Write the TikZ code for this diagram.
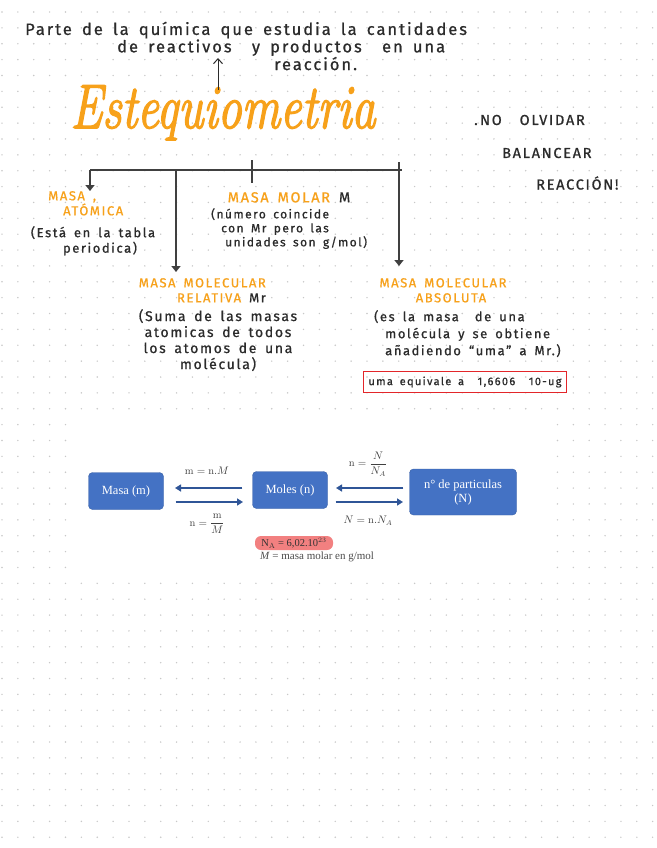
\documentclass[tikz,border=0pt]{standalone}
\usepackage{amsmath}
\usepackage{fontspec}
\usetikzlibrary{positioning, arrows.meta, calc}
\newfontfamily\handfont[LetterSpace=12, WordSpace=1.6, FakeBold=0.8]{Fira Sans}
\newfontfamily\titlefont[FakeBold=2.5]{Latin Modern Roman}
\newfontfamily\slidefont{Liberation Serif}
\definecolor{inkgray}{HTML}{2B2B2B}
\definecolor{stoorange}{HTML}{F7A11A}
\definecolor{dotgray}{HTML}{C8C8C8}
\definecolor{slideblue}{HTML}{4472C4}
\definecolor{arrowblue}{HTML}{2F5597}
\definecolor{napink}{HTML}{F28080}
\definecolor{boxred}{HTML}{E3262A}

\begin{document}
\begin{tikzpicture}[
      x=1pt, y=-1pt,
      every node/.style={inner sep=0pt, text=inkgray},
      hand/.style={font=\handfont\fontsize{14}{16}\selectfont},
      note/.style={font=\handfont\fontsize{14.5}{16}\selectfont, align=left},
      heading/.style={font=\handfont\fontsize{13}{15}\selectfont, text=stoorange},
      treeline/.style={draw=inkgray!90, line width=1.5pt},
      slidebox/.style={fill=slideblue, draw=slideblue!85!black, line width=0.4pt, rounded corners=4pt,
        text=white, font=\slidefont\fontsize{12.5}{14}\selectfont, align=center},
      slidearrow/.style={draw=arrowblue, line width=2.2pt, -{Triangle[length=6pt, width=7pt]}},
      formula/.style={font=\fontsize{10.5}{12}\selectfont, text=black!75},
      >=Stealth,
    ]
    % dotted page
    \useasboundingbox (0,0) rectangle (656,848);
    \fill[white] (0,0) rectangle (656,848);
    \foreach \i in {0,...,41}
      \foreach \j in {0,...,52}
        \fill[dotgray] (2+15.87*\i, 12+15.87*\j) circle (0.8);

    % definition and title
    \node[hand, font=\handfont\fontsize{16.5}{16}\selectfont, anchor=west, align=left] (def) at (25,46)
      {Parte de la química que estudia la cantidades\\
       \hspace*{92pt}de reactivos \ y productos \ en una\\
       \hspace*{249pt}reacción.};
    \node[font=\titlefont\itshape\fontsize{48}{50}\selectfont, text=stoorange,
      text height=30pt, text depth=8pt, anchor=base] (title) at (223,128)
      {\scalebox{1}[1.3]{Estequiometria}};
    \coordinate (up0) at (218,90);
    \coordinate (up1) at (218,58);
    \draw[inkgray, line width=1pt, -{Straight Barb[length=5pt, width=9pt]}] (up0) -- (up1);

    \node[note, anchor=west] (note1) at (474,120) {.\,NO \ OLVIDAR};
    \node[note, anchor=west] (note2) at (502,153) {BALANCEAR};
    \node[note, anchor=west] (note3) at (536,183) {REACCIÓN!};

    % branches
    \node[heading, anchor=north west, align=left] (atomh) at (48,191)
      {MASA ,\\ \hspace*{15pt}ATÓMICA};
    \node[hand, font=\handfont\fontsize{13}{15.5}\selectfont, anchor=north, align=center] (atomc) at (93,226)
      {(Está en la tabla\\ \hspace*{14pt}periodica)};

    \node[heading, font=\handfont\fontsize{14.5}{15}\selectfont, anchor=north] (molarh) at (289,192)
      {MASA MOLAR \textcolor{inkgray}{M}};
    \node[hand, font=\handfont\fontsize{12}{14}\selectfont, anchor=north west, align=left] (molarc) at (211,208)
      {(número coincide\\ \hspace*{10pt}con Mr pero las\\ \hspace*{14pt}unidades son g/mol)};

    \node[heading, anchor=north east, align=right] (relh) at (266,278)
      {MASA MOLECULAR\\ RELATIVA \textcolor{inkgray}{Mr}};
    \node[hand, anchor=north, align=center] (relc) at (218,309)
      {(Suma de las masas\\ atomicas de todos\\ los atomos de una\\ molécula)};

    \node[heading, anchor=north, align=center] (absh) at (443,278)
      {MASA MOLECULAR\\ \hspace*{16pt}ABSOLUTA};
    \node[hand, font=\handfont\fontsize{13}{17}\selectfont, anchor=north west, align=left] (absc) at (374,310)
      {(es la masa \ de una\\ \hspace*{11pt}molécula y se obtiene\\ \hspace*{11pt}añadiendo “uma” a Mr.)};
    \node[hand, draw=boxred, line width=1.3pt, minimum width=203pt, minimum height=21pt,
      font=\handfont\fontsize{11}{12}\selectfont] (uma) at (465,382)
      {uma equivale a \ 1,6606 \ 10-ug};

    \coordinate (tl) at (90,170);
    \coordinate (tr) at (402,170);
    \coordinate (tm) at (176,170);
    \coordinate (tt) at (252,160);
    \coordinate (tx) at (399,162);
    \draw[treeline] (tl) -- (tr);
    \draw[treeline, -{Triangle[length=6pt, width=9pt]}] (tl) -- (tl |- atomh.north);
    \draw[treeline, -{Triangle[length=6pt, width=9pt]}] (tm) -- (176,272);
    \draw[treeline] (tt) -- (252,183);
    \draw[treeline, -{Triangle[length=6pt, width=9pt]}] (tx) -- (399,266);

    % pasted conversion chart
    \fill[white] (72,419) rectangle (552,578);
    \node[slidebox, minimum width=75pt, minimum height=37pt] (masa) at (126,491) {Masa (m)};
    \node[slidebox, minimum width=75pt, minimum height=37pt] (moles) at (290,490) {Moles (n)};
    \node[slidebox, minimum width=107pt, minimum height=46pt] (part) at (463,492) {n° de particulas\\(N)};

    \coordinate (hi) at (0,488);
    \coordinate (lo) at (0,502);
    \draw[slidearrow] (moles.west |- hi) ++(-10,0) -- (175,488);
    \draw[slidearrow] (masa.east |- lo) ++(12,0) -- (243,502);
    \draw[slidearrow] (part.west |- hi) ++(-6,0) -- (336,488);
    \draw[slidearrow] (moles.east |- lo) ++(8,0) -- (403,502);

    \node[formula] (f1) at (207,471) {$\mathrm{m} = \mathrm{n}.M$};
    \node[formula] (f2) at (207,524) {$\mathrm{n} = \dfrac{\mathrm{m}}{M}$};
    \node[formula] (f3) at (368,464) {$\mathrm{n} = \dfrac{N}{N_A}$};
    \node[formula] (f4) at (368,521) {$N = \mathrm{n}.N_A$};

    \node[fill=napink, rounded corners=6pt, minimum width=78pt, minimum height=14pt,
      font=\slidefont\fontsize{10.5}{11}\selectfont, text=black!80] (na) at (294,543)
      {N$_{\mathrm{A}}$ = 6,02.10$^{23}$};
    \node[font=\slidefont\fontsize{11}{12}\selectfont, text=black!70] (mm) at (317,557)
      {\textit{M} = masa molar en g/mol};
  \end{tikzpicture}
\end{document}
